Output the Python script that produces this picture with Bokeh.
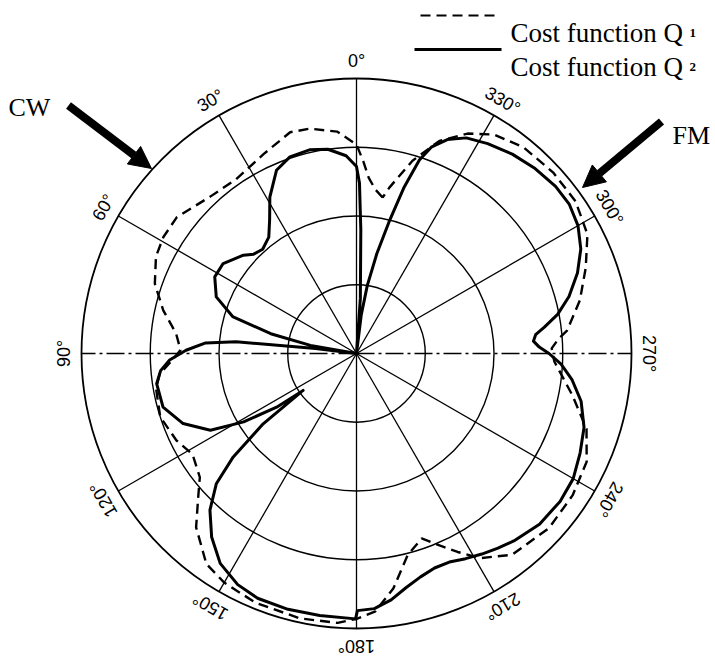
import numpy as np
from bokeh.plotting import figure
from bokeh.models import Range1d, Arrow, NormalHead
from bokeh.embed import file_html
from bokeh.resources import INLINE
from bokeh.core.properties import value

# ---------------- data ----------------
ring_radii = [0.25, 0.5, 0.75, 1.0]
spoke_angles = [0, 30, 60, 120, 150, 180, 210, 240, 300, 330]
axis_angles = [90, 270]
label_angles = [0, 30, 60, 90, 120, 150, 180, 210, 240, 270, 300, 330]
label_texts = ["0°", "30°", "60°", "90°", "120°", "150°", "180°",
               "210°", "240°", "270°", "300°", "330°"]

# Cost function Q1 (dashed): angle in degrees (CCW from top), normalised radius
q1_theta = [-9.5, -6.6, -4, -2, 0, 5, 11.7, 16.7, 25, 34.7, 43, 52.8, 58.9,
            64.2, 70.9, 77.4, 83.7, 88.9, 92, 96, 100, 107.9, 115.8, 121.6,
            128.3, 132.2, 137.3, 144.5, 150, 158, 168, 176, 180, 184.2, 188.9,
            194.2, 199.4, 203.4, 207, 211.2, 217.7, 227.8, 236.7, 244.8, 251.9,
            259, 267.7, 271.5, 274.2, 276.2, 283.4, 290.5, 297.3, 304.8, 312.6,
            321, 327.9, 333.2, 338.7, 343.8, 348.8, 350.5]
q1_r = [0.575, 0.60, 0.64, 0.70, 0.76, 0.81, 0.835, 0.84, 0.80, 0.77, 0.78,
        0.82, 0.82, 0.81, 0.776, 0.72, 0.66, 0.64, 0.67, 0.72, 0.74, 0.75,
        0.727, 0.70, 0.726, 0.777, 0.86, 0.94, 0.962, 0.978, 0.985, 0.982,
        0.965, 0.94, 0.865, 0.757, 0.713, 0.76, 0.81, 0.87, 0.925, 0.945,
        0.94, 0.925, 0.88, 0.80, 0.72, 0.71, 0.737, 0.77, 0.835, 0.89, 0.945,
        0.97, 0.972, 0.965, 0.94, 0.896, 0.83, 0.73, 0.615, 0.575]

# Cost function Q2 (solid)
q2_theta = [-5, -4, -2, -1, 0, 3, 8, 13, 18.7, 23.6, 29, 33, 37, 42, 46, 49,
            56, 61.6, 68, 73.4, 77, 80, 82, 83, 84.4, 86, 88.9, 92, 95, 98.6,
            105.5, 112, 117.7, 121.2, 123.9, 124.7, 127, 130, 132.9, 136.9,
            141.7, 147, 152.8, 158, 165, 172, 179.8, 180.2, 184, 188, 192, 196,
            200, 204, 208, 212, 216, 220, 227, 234, 240, 246, 252, 258, 263,
            267, 270, 272, 274, 276, 278, 281, 285, 290, 295, 300, 305, 310,
            316, 322, 328, 333, 337, 340, 342, 344, 346, 348.5, 351, 353, 355]
q2_r = [0.0, 0.2, 0.45, 0.62, 0.68, 0.72, 0.75, 0.76, 0.755, 0.727, 0.65, 0.58,
        0.53, 0.51, 0.52, 0.545, 0.585, 0.586, 0.55, 0.47, 0.32, 0.17, 0.0,
        0.15, 0.44, 0.55, 0.62, 0.68, 0.715, 0.735, 0.73, 0.68, 0.60, 0.48,
        0.35, 0.236, 0.425, 0.585, 0.696, 0.78, 0.85, 0.91, 0.945, 0.96,
        0.963, 0.962, 0.965, 0.935, 0.93, 0.905, 0.87, 0.845, 0.83, 0.83,
        0.845, 0.86, 0.875, 0.89, 0.91, 0.915, 0.91, 0.89, 0.87, 0.835, 0.79,
        0.745, 0.70, 0.665, 0.645, 0.655, 0.69, 0.745, 0.80, 0.855, 0.90,
        0.93, 0.945, 0.945, 0.935, 0.92, 0.90, 0.88, 0.845, 0.80, 0.74, 0.63,
        0.5, 0.37, 0.25, 0.14, 0.0]

legend_texts = ["Cost function Q", "Cost function Q"]
legend_subs = ["1", "2"]
arrow_texts = ["CW", "FM"]

# ---------------- layout helpers ----------------
W, H = 715, 656
CX, CY, S = 356.0, 353.0, 275.0   # pixel of the pole, pixels per unit radius


def ux(px):
    return (px - CX) / S


def uy(py):
    return (CY - py) / S


def polar(theta_deg, r):
    t = np.radians(np.asarray(theta_deg, dtype=float))
    r = np.asarray(r, dtype=float)
    return -r * np.sin(t), r * np.cos(t)


p = figure(width=W, height=H, output_backend="svg", toolbar_location=None,
           x_range=Range1d(ux(0), ux(W)), y_range=Range1d(uy(H), uy(0)),
           x_axis_location=None, y_axis_location=None, min_border=0,
           outline_line_color=None, background_fill_color="white")
p.grid.visible = False

# rings
p.circle(x=[0] * len(ring_radii), y=[0] * len(ring_radii), radius=ring_radii,
         fill_color=None, line_color="black",
         line_width=[1.4, 1.4, 1.4, 1.8])

# spokes
sx, sy = polar(spoke_angles, [1.0] * len(spoke_angles))
p.segment(x0=[0] * len(sx), y0=[0] * len(sx), x1=sx, y1=sy,
          line_color="black", line_width=1.3)
ax_, ay_ = polar(axis_angles, [1.0] * len(axis_angles))
p.segment(x0=[0] * len(ax_), y0=[0] * len(ax_), x1=ax_, y1=ay_,
          line_color="black", line_width=1.3, line_dash="18 4 3 4")

# angle labels
lx, ly = polar(label_angles, [1.062] * len(label_angles))
p.text(x=lx, y=ly, text=label_texts, angle=np.radians(label_angles),
       text_align="center", text_baseline="middle",
       text_font=value("Liberation Sans"), text_font_size=value("18px"),
       text_color="black")

# curves
x1, y1 = polar(q1_theta + [q1_theta[0] + 360], q1_r + [q1_r[0]])
p.line(x1, y1, line_color="black", line_width=2.4, line_dash="10 6")
x2, y2 = polar(q2_theta, q2_r)
p.line(x2, y2, line_color="black", line_width=3.0, line_join="round")

# legend (drawn by hand)
p.line([ux(420), ux(498)], [uy(15), uy(15)], line_color="black",
       line_width=2.2, line_dash="10 6")
p.line([ux(414), ux(501)], [uy(49), uy(49)], line_color="black",
       line_width=3.0)
p.text(x=[ux(510), ux(510)], y=[uy(32), uy(66)], text=legend_texts,
       text_align="left", text_baseline="alphabetic",
       text_font=value("Liberation Serif"), text_font_size=value("27px"),
       text_color="black")
p.text(x=[ux(689), ux(689)], y=[uy(32), uy(66)], text=legend_subs,
       text_align="left", text_baseline="alphabetic",
       text_font=value("Liberation Serif"), text_font_size=value("13px"),
       text_font_style="bold", text_color="black")

# CW / FM arrows
p.text(x=[ux(8), ux(672)], y=[uy(107), uy(135)], text=arrow_texts,
       text_align="left", text_baseline="alphabetic",
       text_font=value("Liberation Serif"), text_font_size=value("26px"),
       text_color="black")
p.add_layout(Arrow(end=NormalHead(size=22, fill_color="black", line_color="black"),
                   x_start=ux(68), y_start=uy(105), x_end=ux(151), y_end=uy(168),
                   line_width=8, line_color="black"))
p.add_layout(Arrow(end=NormalHead(size=22, fill_color="black", line_color="black"),
                   x_start=ux(661), y_start=uy(121), x_end=ux(582), y_end=uy(187),
                   line_width=8, line_color="black"))

open("out.html", "w").write(file_html(p, INLINE))
